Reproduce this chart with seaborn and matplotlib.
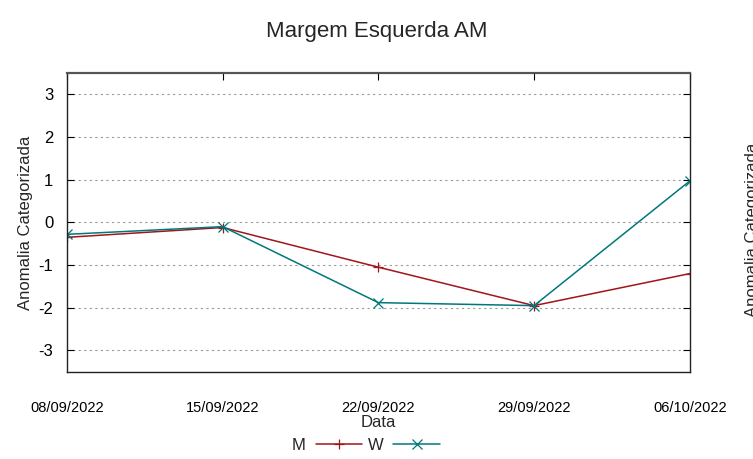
import pandas as pd
import seaborn as sns
import matplotlib.pyplot as plt

# Values
datas = ['2022-09-08', '2022-09-15', '2022-09-22', '2022-09-29', '2022-10-06']
tick_labels = ['08/09/2022', '15/09/2022', '22/09/2022', '29/09/2022', '06/10/2022']
serie_m = [-0.35, -0.12, -1.05, -1.95, -1.20]
serie_w = [-0.28, -0.10, -1.88, -1.95, 0.97]
y_ticks = [-3, -2, -1, 0, 1, 2, 3]

df = pd.DataFrame({
    'Data': pd.to_datetime(datas * 2),
    'Anomalia': serie_m + serie_w,
    'Serie': ['M'] * len(datas) + ['W'] * len(datas),
})

sns.set_style('white')
plt.rcParams['font.family'] = ['Liberation Sans', 'DejaVu Sans']

fig = plt.figure(figsize=(7.53, 4.59), dpi=100)
ax = fig.add_axes([0.089, 0.19, 0.827, 0.651])

sns.lineplot(data=df, x='Data', y='Anomalia', hue='Serie', style='Serie',
             palette={'M': '#a0161a', 'W': '#00787a'},
             markers={'M': '+', 'W': 'x'}, dashes=False,
             markersize=6.5, linewidth=1.1, ax=ax)

# seaborn paints marker edges white; + and x are edge-only markers
for ln in ax.get_lines():
    ln.set_markeredgecolor(ln.get_color())
    ln.set_markeredgewidth(0.9)

ax.set_xlim(pd.Timestamp(datas[0]), pd.Timestamp(datas[-1]))
ax.set_ylim(-3.5, 3.5)
ax.set_xticks(pd.to_datetime(datas))
ax.set_xticklabels(tick_labels, fontsize=10.5)
ax.set_yticks(y_ticks)
ax.set_yticklabels([str(v) for v in y_ticks], fontsize=12)
ax.tick_params(axis='both', direction='in', length=5, width=0.8,
               top=True, right=True, bottom=False, left=True, colors='black')
ax.tick_params(axis='x', pad=21)
ax.tick_params(axis='y', pad=10)
ax.yaxis.grid(True, linestyle=(0, (2, 3)), color='#999999', linewidth=0.8)
for s in ax.spines.values():
    s.set_color('#222222')
    s.set_linewidth(1)
ax.spines['top'].set_color('#555555')
ax.spines['top'].set_linewidth(1.6)

ax.set_xlabel('Data', fontsize=12, labelpad=0)
ax.set_ylabel('Anomalia Categorizada', fontsize=12, labelpad=4)
fig.suptitle('Margem Esquerda AM', fontsize=16, y=0.955)

leg = ax.legend(loc='upper center', bbox_to_anchor=(0.48, -0.17), ncol=2,
                frameon=False, markerfirst=False, handlelength=2.8,
                columnspacing=0.3, handletextpad=0.6, fontsize=12)
leg.set_title(None)
for h in leg.get_lines():
    h.set_markeredgecolor(h.get_color())
    h.set_markeredgewidth(0.9)

# clipped label from a neighbouring panel at the right edge
fig.text(0.989, 0.50, 'Anomalia Categorizada', rotation=90, fontsize=12,
         ha='left', va='center')

fig.savefig('out.png', dpi=100)
